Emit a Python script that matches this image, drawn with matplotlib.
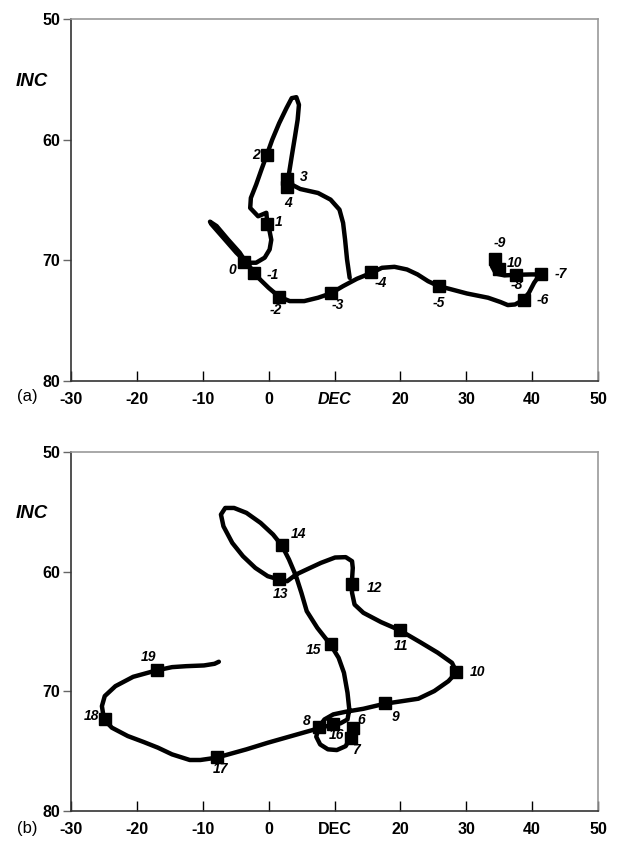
import numpy as np
import matplotlib.pyplot as plt

plt.rcParams['font.family'] = ['Liberation Sans', 'DejaVu Sans']

# panel (a): path
dec_a = [33.8, 33.9, 34.5, 35.8, 37.6, 39.8, 41.2, 40.3, 39.5, 38.6, 37.4, 36.3, 35.2,
         33.3, 30.1, 27.4, 25.8, 24.2, 22.6, 21.0, 19.1, 17.2, 15.6, 13.4, 11.3, 9.4,
         7.5, 5.4, 3.2, 1.6, 0.0, -1.3, -2.2, -3.1, -4.9, -6.9, -8.7, -8.9, -7.9, -6.2,
         -4.4, -3.4, -1.9, -0.6, 0.15, 0.4, 0.15, -0.2, -0.35, -1.6, -2.8, -2.7, -1.9,
         -1.1, -0.27, 0.54, 1.6, 2.7, 3.5, 4.2, 4.6, 4.4, 4.0, 3.5, 3.1, 2.85, 4.8, 7.5,
         9.4, 10.75, 11.3, 11.6, 11.9, 12.3]
inc_a = [69.6, 70.5, 71.1, 71.25, 71.2, 71.17, 71.17, 71.86, 72.7, 73.3, 73.66, 73.71, 73.46,
         73.1, 72.75, 72.36, 72.14, 71.73, 71.17, 70.76, 70.54, 70.62, 71.04, 71.53, 72.14, 72.75,
         73.1, 73.38, 73.38, 73.02, 72.28, 71.59, 71.05, 70.33, 69.37, 68.12, 67.0, 66.8, 67.16, 68.26,
         69.36, 70.2, 70.2, 69.78, 69.1, 68.3, 67.6, 66.97, 66.06, 66.35, 65.66, 64.83, 63.73,
         62.49, 61.25, 60.01, 58.63, 57.39, 56.56, 56.48, 57.11, 58.35, 59.73, 61.39, 62.77, 63.54, 64.09, 64.42,
         64.97, 65.8, 66.9, 68.28, 69.93, 71.45]

mk_a_dec = [-0.27, 2.85, 2.85, -0.2, -3.8, -2.2, 1.6, 9.4, 15.6, 25.9, 38.7, 41.3, 37.6, 35.0, 34.3]
mk_a_inc = [61.25, 63.3, 63.9, 67.0, 70.1, 71.05, 73.0, 72.75, 71.0, 72.15, 73.3, 71.15, 71.2, 70.7, 69.9]
mk_a_lab = ['2', '3', '4', '1', '0', '-1', '-2', '-3', '-4', '-5', '-6', '-7', '-8', '10', '-9']
# label offsets in pixels (right, up)
off_a = [(-11, 0), (16, 2), (1, -16), (11, 2), (-11, -8), (19, -2), (-3, -13), (7, -12), (9, -11),
         (0, -17), (19, 0), (20, 0), (0, -10), (15, 6), (5, 16)]

# panel (b)
dec_b = [12.66, 12.34, 11.70, 10.35, 9.00, 7.82, 7.23, 7.55, 8.47, 9.81, 11.69, 14.38, 17.61,
         20.30, 22.72, 25.14, 27.29, 28.53, 27.83, 25.68, 22.99, 19.87, 17.07, 14.38, 13.04,
         12.66, 12.61, 12.77, 12.66, 11.70, 10.08, 7.93, 5.78, 4.16, 2.82, 1.58, -0.14, -2.02,
         -3.90, -5.52, -6.86, -7.24, -6.59, -5.25, -3.37, -1.22, 0.67, 2.01, 3.09, 4.16, 4.97,
         5.78, 7.39, 9.38, 10.62, 11.43, 11.97, 12.24, 11.97, 10.89, 9.81, 7.93, 5.24, 2.55,
         -0.14, -3.37, -7.94, -10.36, -11.97, -14.66, -16.81, -18.96, -21.38, -23.80, -24.99,
         -25.31, -24.88, -23.26, -20.57, -17.08, -14.66, -12.51, -9.82, -8.21, -7.56]
inc_b = [72.85, 73.94, 74.58, 74.91, 74.85, 74.44, 73.80, 73.04, 72.35, 71.93, 71.71, 71.46, 71.04,
         70.82, 70.62, 69.98, 69.15, 68.40, 67.62, 66.78, 65.89, 64.89, 64.22, 63.44, 62.75,
         61.77, 61.08, 59.69, 59.13, 58.79, 58.82, 59.27, 59.82, 60.24, 60.80, 60.66, 60.38, 59.69,
         58.71, 57.60, 56.21, 55.23, 54.68, 54.68, 55.09, 55.93, 56.90, 57.82, 58.99, 60.38, 61.77,
         63.30, 64.70, 66.09, 67.20, 68.45, 70.12, 71.51, 72.35, 72.68, 72.77, 73.04, 73.46, 73.88,
         74.30, 74.85, 75.55, 75.74, 75.74, 75.27, 74.71, 74.24, 73.74, 73.04, 72.35,
         71.24, 70.40, 69.57, 68.79, 68.26, 67.98, 67.90, 67.84, 67.70, 67.53]

mk_b_dec = [12.8, 12.5, 7.6, 9.8, 17.6, 28.5, 19.9, 12.6, 1.6, 2.0, 9.4, -7.9, -24.9, -17.0]
mk_b_inc = [73.1, 73.9, 73.0, 72.75, 71.0, 68.4, 64.9, 61.05, 60.6, 57.8, 66.05, 75.5, 72.3, 68.2]
mk_b_lab = ['6', '7', '8', '16', '9', '10', '11', '12', '13', '14', '15', '17', '18', '19']
off_b = [(8, 8), (5, -12), (-12, 6), (3, -11), (11, -14), (21, 0), (1, -16), (23, -4), (1, -15),
         (17, 11), (-17, -6), (4, -12), (-13, 3), (-8, 13)]

xticks = [-30, -20, -10, 0, 10, 20, 30, 40, 50]
xtick_labels = ['-30', '-20', '-10', '0', 'DEC', '20', '30', '40', '50']
yticks = [50, 60, 70, 80]

fig = plt.figure(figsize=(6.24, 8.41), dpi=100)
ax_a = fig.add_axes([0.1138, 0.547, 0.8446, 0.4304])
ax_b = fig.add_axes([0.1138, 0.0357, 0.8446, 0.4269])

panels = [(ax_a, dec_a, inc_a, mk_a_dec, mk_a_inc, mk_a_lab, off_a, 'italic'),
          (ax_b, dec_b, inc_b, mk_b_dec, mk_b_inc, mk_b_lab, off_b, 'normal')]

for ax, xd, yd, mx, my, ml, off, dec_style in panels:
    ax.plot(xd, yd, color='black', lw=3.2, solid_joinstyle='round', solid_capstyle='round')
    ax.plot(mx, my, 's', color='black', ms=8)
    for x, y, t, o in zip(mx, my, ml, off):
        ax.annotate(t, (x, y), xytext=o, textcoords='offset pixels', ha='center', va='center',
                    fontsize=10, fontweight='bold', fontstyle='italic')
    ax.set_xlim(-30, 50)
    ax.set_ylim(80, 50)
    ax.set_xticks(xticks)
    ax.set_xticklabels(xtick_labels, fontsize=11.5, fontweight='bold')
    ax.get_xticklabels()[4].set_fontstyle(dec_style)
    ax.set_yticks(yticks)
    ax.set_yticklabels([str(v) for v in yticks], fontsize=11.5, fontweight='bold')
    ax.tick_params(axis='x', direction='in', length=7, pad=8, width=1)
    ax.tick_params(axis='y', direction='out', length=6, pad=2, width=1, color='#666666')
    for s in ['left', 'bottom']:
        ax.spines[s].set_color('#333333')
        ax.spines[s].set_linewidth(1.2)
    for s in ['top', 'right']:
        ax.spines[s].set_color('#999999')
        ax.spines[s].set_linewidth(1.2)

fig.text(32/624, 1-82/841, 'INC', fontsize=13.5, fontweight='bold', fontstyle='italic',
         ha='center', va='center')
fig.text(32/624, 1-514/841, 'INC', fontsize=13.5, fontweight='bold', fontstyle='italic',
         ha='center', va='center')
fig.text(27/624, 1-396/841, '(a)', fontsize=12, ha='center', va='center')
fig.text(27/624, 1-829/841, '(b)', fontsize=12, ha='center', va='center')

plt.savefig('out.png', dpi=100)
